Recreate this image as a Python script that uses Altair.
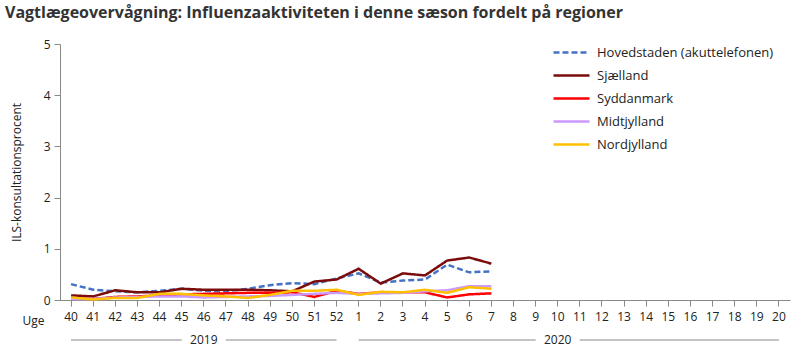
import altair as alt
import pandas as pd

weeks = ["40", "41", "42", "43", "44", "45", "46", "47", "48", "49", "50", "51", "52",
         "1", "2", "3", "4", "5", "6", "7", "8", "9", "10", "11", "12", "13", "14",
         "15", "16", "17", "18", "19", "20"]

series_names = ["Hovedstaden (akuttelefonen)", "Sjælland", "Syddanmark", "Midtjylland", "Nordjylland"]
series_colors = ["#4472C4", "#7B0C0C", "#FF0000", "#CC99FF", "#FFC000"]

hovedstaden = [0.31, 0.20, 0.17, 0.15, 0.18, 0.22, 0.18, 0.17, 0.22, 0.29, 0.33, 0.31, 0.42,
               0.52, 0.34, 0.38, 0.40, 0.69, 0.54, 0.56]
sjaelland = [0.09, 0.07, 0.19, 0.15, 0.15, 0.22, 0.20, 0.20, 0.20, 0.19, 0.17, 0.36, 0.40,
             0.61, 0.32, 0.52, 0.48, 0.77, 0.83, 0.71]
syddanmark = [0.03, 0.02, 0.06, 0.07, 0.09, 0.11, 0.12, 0.13, 0.14, 0.14, 0.15, 0.06, 0.18,
              0.12, 0.15, 0.15, 0.15, 0.05, 0.11, 0.13]
midtjylland = [0.02, 0.02, 0.05, 0.06, 0.07, 0.07, 0.05, 0.06, 0.07, 0.08, 0.10, 0.12, 0.14,
               0.12, 0.13, 0.14, 0.17, 0.19, 0.27, 0.27]
nordjylland = [0.05, 0.01, 0.04, 0.04, 0.12, 0.12, 0.09, 0.07, 0.04, 0.10, 0.18, 0.18, 0.20,
               0.10, 0.16, 0.15, 0.20, 0.14, 0.25, 0.22]

years = ["2019", "2020"]
year_start = ["40", "1"]
year_mid = ["46", "10"]
year_end = ["52", "20"]

all_series = [hovedstaden, sjaelland, syddanmark, midtjylland, nordjylland]
rows = []
for name, vals in zip(series_names, all_series):
    for i, v in enumerate(vals):
        rows.append({"Uge": weeks[i], "Region": name, "Værdi": v, "order": i})
df = pd.DataFrame(rows)

year_df = pd.DataFrame({"year": years, "start": year_start, "mid": year_mid, "end": year_end})

FONT = "Open Sans"
GREY = "#898989"


def make_legend():
    return alt.Legend(title=None, orient="none", legendX=504, legendY=1,
                      symbolType="M-3,0L3,0", symbolSize=144,
                      symbolStrokeWidth=2.5, labelFontSize=13,
                      labelColor="#222", labelFont=FONT, labelLimit=400,
                      rowPadding=8, labelOffset=18)


x_enc = alt.X("Uge:N", sort=weeks, scale=alt.Scale(domain=weeks, padding=0),
              axis=alt.Axis(title="Uge", titleX=-27, titleY=20, titleAngle=0,
                            titleAlign="center", titleBaseline="middle",
                            titleFontWeight="normal", titleFontSize=12, titleColor="#222",
                            labelAngle=0, labelFontSize=12, labelColor="#222",
                            labelPadding=5, tickSize=6, tickColor=GREY,
                            domainColor=GREY, labelFont=FONT, titleFont=FONT))

lines = alt.Chart(df).mark_line(strokeWidth=2.5).encode(
    x=x_enc,
    y=alt.Y("Værdi:Q", scale=alt.Scale(domain=[0, 5]),
            axis=alt.Axis(title="ILS-konsultationsprocent", values=[0, 1, 2, 3, 4, 5],
                          grid=False, tickSize=6, tickColor=GREY, domainColor=GREY,
                          labelFontSize=12, labelColor="#222", labelPadding=4,
                          titleFontSize=12, titleFontWeight="normal", titleColor="#222",
                          titlePadding=20, labelFont=FONT, titleFont=FONT)),
    color=alt.Color("Region:N", sort=series_names,
                    scale=alt.Scale(domain=series_names, range=series_colors),
                    legend=make_legend()),
    strokeDash=alt.StrokeDash("Region:N", sort=series_names,
                              scale=alt.Scale(domain=series_names,
                                              range=[[6, 3], [1, 0], [1, 0], [1, 0], [1, 0]]),
                              legend=make_legend()),
    order="order:Q",
)

base_year = alt.Chart(year_df)
rule_left = base_year.mark_rule(color=GREY, strokeWidth=1, x2Offset=-22).encode(
    x=alt.X("start:N", sort=weeks, scale=alt.Scale(domain=weeks, padding=0)),
    x2="mid:N", y=alt.value(296))
rule_right = base_year.mark_rule(color=GREY, strokeWidth=1, xOffset=22).encode(
    x=alt.X("mid:N", sort=weeks, scale=alt.Scale(domain=weeks, padding=0)),
    x2="end:N", y=alt.value(296))
year_text = base_year.mark_text(fontSize=12, color="#222", font=FONT, baseline="middle").encode(
    x=alt.X("mid:N", sort=weeks, scale=alt.Scale(domain=weeks, padding=0)),
    y=alt.value(296), text="year:N")

chart = alt.layer(lines, rule_left, rule_right, year_text).properties(
    width=730, height=256,
    title=alt.TitleParams("Vagtlægeovervågning: Influenzaaktiviteten i denne sæson fordelt på regioner",
                          anchor="start", frame="group", dx=-55, offset=17, fontSize=16, font=FONT,
                          fontWeight="bold", color="#333"),
    autosize=alt.AutoSizeParams(type="none"),
    padding={"left": 60, "top": 44, "right": 10, "bottom": 52},
).configure_view(stroke=None)

chart.save("out.html", embed_options={"renderer": "svg", "actions": False})
